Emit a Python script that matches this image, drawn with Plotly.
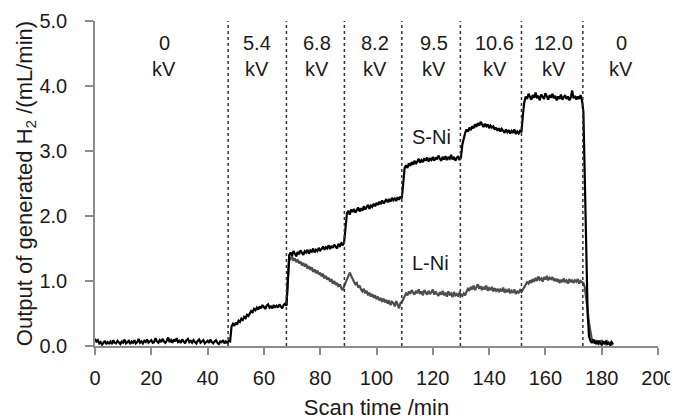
import plotly.graph_objects as go

STEP = 0.5  # sampling interval, min

# S-Ni output (mL/min), every 0.5 min from t = 0
s_ni = [
    # 0 - 47.5
    0.11, 0.07, 0.09, 0.04, 0.06, 0.02, 0.05, 0.08, 0.03, 0.06,
    0.04, 0.07, 0.03, 0.09, 0.05, 0.04, 0.08, 0.06, 0.03, 0.07,
    0.05, 0.10, 0.04, 0.06, 0.08, 0.03, 0.07, 0.05, 0.09, 0.04,
    0.06, 0.11, 0.05, 0.07, 0.04, 0.08, 0.06, 0.10, 0.05, 0.07,
    0.09, 0.05, 0.06, 0.12, 0.07, 0.05, 0.09, 0.06, 0.11, 0.07,
    0.05, 0.08, 0.13, 0.06, 0.09, 0.05, 0.10, 0.07, 0.12, 0.06,
    0.08, 0.05, 0.10, 0.07, 0.04, 0.09, 0.11, 0.06, 0.08, 0.05,
    0.09, 0.06, 0.04, 0.08, 0.10, 0.05, 0.07, 0.09, 0.04, 0.06,
    0.08, 0.05, 0.10, 0.06, 0.04, 0.07, 0.09, 0.05, 0.03, 0.07,
    0.06, 0.09, 0.04, 0.07, 0.05, 0.08,
    # 48
    0.07,
    # 48.5 - 58
    0.30, 0.34, 0.31, 0.36, 0.33, 0.39, 0.37, 0.42, 0.40, 0.45,
    0.43, 0.48, 0.46, 0.51, 0.54, 0.52, 0.57, 0.55, 0.59, 0.56,
    # 58.5 - 68
    0.61, 0.58, 0.63, 0.60, 0.57, 0.62, 0.64, 0.59, 0.61, 0.58,
    0.63, 0.60, 0.62, 0.59, 0.64, 0.61, 0.58, 0.63, 0.65, 0.62,
    # 68.5 - 69
    1.10, 1.40,
    # 69.5 - 79
    1.44, 1.39, 1.46, 1.42, 1.38, 1.45, 1.41, 1.47, 1.43, 1.40,
    1.46, 1.44, 1.48, 1.42, 1.47, 1.45, 1.50, 1.44, 1.48, 1.46,
    # 79.5 - 89
    1.51, 1.47, 1.49, 1.53, 1.48, 1.52, 1.50, 1.55, 1.49, 1.54,
    1.51, 1.56, 1.53, 1.50, 1.57, 1.54, 1.58, 1.55, 1.60, 1.85,
    # 89.5 - 99
    2.04, 2.08, 2.02, 2.10, 2.06, 2.11, 2.05, 2.09, 2.13, 2.07,
    2.12, 2.08, 2.15, 2.10, 2.13, 2.17, 2.11, 2.16, 2.14, 2.19,
    # 99.5 - 109
    2.15, 2.20, 2.17, 2.22, 2.18, 2.24, 2.19, 2.23, 2.26, 2.21,
    2.25, 2.22, 2.28, 2.24, 2.27, 2.23, 2.29, 2.25, 2.30, 2.27,
    # 109.5 - 110
    2.55, 2.74,
    # 110.5 - 120
    2.78, 2.74, 2.81, 2.77, 2.83, 2.79, 2.85, 2.80, 2.84, 2.88,
    2.82, 2.86, 2.83, 2.89, 2.85, 2.90, 2.84, 2.88, 2.86, 2.91,
    # 120.5 - 130
    2.85, 2.90, 2.87, 2.93, 2.88, 2.85, 2.91, 2.87, 2.92, 2.86,
    2.90, 2.88, 2.94, 2.87, 2.91, 2.85, 2.89, 2.92, 2.86, 2.90,
    # 130.5 - 131
    3.10, 3.22,
    # 131.5 - 141
    3.28, 3.33, 3.30, 3.36, 3.32, 3.38, 3.35, 3.41, 3.37, 3.43,
    3.39, 3.45, 3.40, 3.37, 3.42, 3.38, 3.41, 3.35, 3.39, 3.36,
    # 141.5 - 151.5
    3.38, 3.33, 3.36, 3.31, 3.35, 3.30, 3.34, 3.31, 3.28, 3.33,
    3.29, 3.32, 3.27, 3.31, 3.28, 3.33, 3.26, 3.30, 3.27, 3.31, 3.29,
    # 152 - 152.5
    3.55, 3.75,
    # 153 - 162.5
    3.84, 3.80, 3.88, 3.83, 3.79, 3.86, 3.82, 3.90, 3.81, 3.85,
    3.78, 3.87, 3.83, 3.80, 3.89, 3.84, 3.79, 3.86, 3.82, 3.88,
    # 163 - 173
    3.81, 3.85, 3.78, 3.84, 3.80, 3.87, 3.79, 3.83, 3.86, 3.80,
    3.84, 3.78, 3.82, 3.93, 3.81, 3.85, 3.79, 3.84, 3.80, 3.86, 3.78,
    # 173.5 - 175.5
    3.60, 2.40, 1.30, 0.50, 0.15,
    # 176 - 184
    0.08, 0.05, 0.10, 0.04, 0.07, 0.03, 0.08, 0.05, 0.02, 0.06,
    0.04, 0.07, 0.03, 0.05, 0.02, 0.06, 0.03,
]

# L-Ni output (mL/min), every 0.5 min from t = 68
l_ni_start = 68.0
l_ni = [
    # 68 - 69
    0.62, 1.05, 1.36,
    # 69.5 - 79
    1.34, 1.38, 1.31, 1.35, 1.29, 1.33, 1.27, 1.30, 1.24, 1.28,
    1.22, 1.26, 1.19, 1.23, 1.17, 1.21, 1.14, 1.18, 1.12, 1.16,
    # 79.5 - 89
    1.10, 1.13, 1.07, 1.11, 1.04, 1.08, 1.02, 1.05, 0.99, 1.03,
    0.96, 1.00, 0.94, 0.97, 0.91, 0.95, 0.89, 0.86, 0.92, 0.98,
    # 89.5 - 99
    1.04, 1.09, 1.13, 1.08, 1.02, 0.99, 0.95, 0.97, 0.90, 0.93,
    0.87, 0.84, 0.88, 0.81, 0.85, 0.78, 0.82, 0.76, 0.80, 0.74,
    # 99.5 - 109
    0.78, 0.72, 0.76, 0.70, 0.74, 0.68, 0.73, 0.67, 0.71, 0.65,
    0.70, 0.63, 0.68, 0.66, 0.61, 0.69, 0.64, 0.58, 0.66, 0.68,
    # 109.5 - 120
    0.72, 0.76, 0.81, 0.78, 0.84, 0.80, 0.86, 0.82, 0.79, 0.85,
    0.81, 0.87, 0.80, 0.84, 0.78, 0.86, 0.82, 0.79, 0.85, 0.80, 0.83, 0.87,
    # 120.5 - 130
    0.79, 0.84, 0.80, 0.77, 0.83, 0.79, 0.85, 0.78, 0.82, 0.76,
    0.84, 0.79, 0.81, 0.75, 0.83, 0.78, 0.80, 0.76, 0.82, 0.79,
    # 130.5 - 141
    0.77, 0.81, 0.78, 0.84, 0.88, 0.85, 0.91, 0.87, 0.93, 0.86,
    0.90, 0.95, 0.88, 0.92, 0.86, 0.91, 0.87, 0.93, 0.85, 0.89, 0.86, 0.91,
    # 141.5 - 151.5
    0.84, 0.89, 0.85, 0.88, 0.83, 0.87, 0.84, 0.90, 0.82, 0.86,
    0.83, 0.88, 0.81, 0.85, 0.82, 0.87, 0.80, 0.84, 0.82, 0.86, 0.83,
    # 152 - 162.5
    0.87, 0.91, 0.95, 0.98, 0.96, 1.01, 0.97, 1.03, 0.99, 1.05,
    1.00, 1.07, 1.02, 1.04, 0.99, 1.06, 1.02, 1.08, 1.01, 1.05, 1.03, 1.06,
    # 163 - 173.5
    1.00, 1.04, 0.99, 1.03, 0.97, 1.02, 0.98, 1.04, 0.99, 1.01,
    0.96, 1.03, 0.98, 1.02, 0.97, 1.01, 0.99, 1.03, 0.96, 1.00, 0.98, 0.97,
    # 174 - 177
    0.90, 0.75, 0.55, 0.35, 0.20, 0.10, 0.06,
    # 177.5 - 184
    0.08, 0.04, 0.07, 0.03, 0.06, 0.09, 0.04, 0.06, 0.03, 0.07,
    0.04, 0.05, 0.02, 0.04,
]

# voltage change times (min) and labels
boundaries = [47.3, 68.0, 88.6, 109.0, 129.8, 151.5, 173.3]
voltage_x = [24.6, 57.7, 79.0, 99.6, 120.6, 142.0, 163.0, 187.0]
voltage_labels = ["0", "5.4", "6.8", "8.2", "9.5", "10.6", "12.0", "0"]

t_s = [i * STEP for i in range(len(s_ni))]
t_l = [l_ni_start + i * STEP for i in range(len(l_ni))]

FONT = "Liberation Sans, Arial, sans-serif"
TXT = "#1a1a1a"
AX = "#8c8c8c"

fig = go.Figure()
fig.add_trace(go.Scatter(x=t_l, y=l_ni, mode="lines", name="L-Ni",
                         line=dict(color="#4d4d4d", width=2.2)))
fig.add_trace(go.Scatter(x=t_s, y=s_ni, mode="lines", name="S-Ni",
                         line=dict(color="#000000", width=2.2)))

for b in boundaries:
    fig.add_shape(type="line", x0=b, x1=b, y0=0, y1=5, xref="x", yref="y",
                  line=dict(color="#333333", width=1.5, dash="dot"))

for vx, lab in zip(voltage_x, voltage_labels):
    fig.add_annotation(x=vx, y=4.66, text=lab, showarrow=False,
                       font=dict(size=20, color=TXT, family=FONT))
    fig.add_annotation(x=vx, y=4.26, text="kV", showarrow=False,
                       font=dict(size=20, color=TXT, family=FONT))

fig.add_annotation(x=119.4, y=3.21, text="S-Ni", showarrow=False,
                   font=dict(size=20, color=TXT, family=FONT))
fig.add_annotation(x=119.1, y=1.28, text="L-Ni", showarrow=False,
                   font=dict(size=20, color=TXT, family=FONT))

# the page body has an 8 px default margin, so the figure is sized to fit the window
fig.update_layout(
    width=670, height=412,
    margin=dict(l=87, r=20, t=13, b=74, autoexpand=False),
    paper_bgcolor="white", plot_bgcolor="white",
    showlegend=False,
    font=dict(family=FONT, size=20, color=TXT),
)
fig.update_xaxes(range=[0, 200], dtick=20, tick0=0, showgrid=False, zeroline=False,
                 automargin=False,
                 showline=True, linecolor=AX, linewidth=1.5,
                 ticks="outside", ticklen=7, tickcolor=AX, tickwidth=1.5,
                 ticklabelstandoff=6,
                 tickfont=dict(size=20, family=FONT, color=TXT),
                 title=dict(text="Scan time /min", standoff=19,
                            font=dict(size=22, family=FONT, color=TXT)))
fig.update_yaxes(range=[0, 5], dtick=1, tick0=0, tickformat=".1f", showgrid=False,
                 zeroline=False, automargin=False,
                 showline=True, linecolor=AX, linewidth=1.5,
                 ticks="outside", ticklen=8, tickcolor=AX, tickwidth=1.5,
                 ticklabelstandoff=14,
                 tickfont=dict(size=20, family=FONT, color=TXT),
                 title=dict(text="Output of generated H<sub>2</sub> /(mL/min)", standoff=1,
                            font=dict(size=22, family=FONT, color=TXT)))

fig.write_html("out.html")
